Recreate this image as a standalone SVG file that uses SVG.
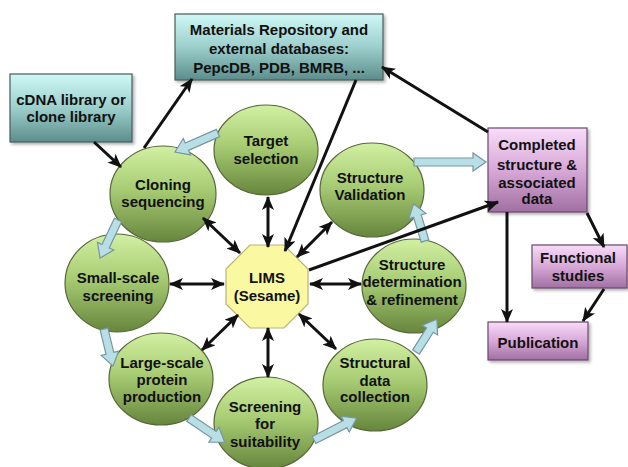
<svg xmlns="http://www.w3.org/2000/svg" width="628" height="467" viewBox="0 0 628 467">
<defs>
  <linearGradient id="gGreen" x1="0" y1="0" x2="0" y2="1">
    <stop offset="0" stop-color="#d2f0a2"/>
    <stop offset="0.45" stop-color="#a8cc74"/>
    <stop offset="1" stop-color="#66863c"/>
  </linearGradient>
  <linearGradient id="gTeal" x1="0" y1="0" x2="0" y2="1">
    <stop offset="0" stop-color="#cff8f6"/>
    <stop offset="0.5" stop-color="#9ccfcc"/>
    <stop offset="1" stop-color="#5c8d8c"/>
  </linearGradient>
  <linearGradient id="gPink" x1="0" y1="0" x2="0" y2="1">
    <stop offset="0" stop-color="#f8dcf8"/>
    <stop offset="0.5" stop-color="#d8a8d8"/>
    <stop offset="1" stop-color="#a070a2"/>
  </linearGradient>
  <filter id="sh" x="-10%" y="-10%" width="125%" height="130%">
    <feDropShadow dx="2" dy="2" stdDeviation="1.5" flood-color="#000" flood-opacity="0.3"/>
  </filter>
  <marker id="ah" viewBox="0 0 14 12" refX="13" refY="6" markerWidth="14" markerHeight="12" markerUnits="userSpaceOnUse" orient="auto-start-reverse">
    <path d="M0,0 L14,6 L0,12 L3.5,6 Z" fill="#111"/>
  </marker>
  <style>
    .t{font-family:"Liberation Sans",Arial,Helvetica,sans-serif;font-weight:bold;font-size:15px;fill:#111;text-anchor:middle}
    .circ{fill:url(#gGreen);stroke:#56683a;stroke-width:1.2}
    .teal{fill:url(#gTeal);stroke:#4a5a5a;stroke-width:1.2;filter:url(#sh)}
    .pink{fill:url(#gPink);stroke:#6a4a6a;stroke-width:1.2;filter:url(#sh)}
    .blk{stroke:#111;stroke-width:3;fill:none;marker-end:url(#ah)}
    .dbl{stroke:#111;stroke-width:3;fill:none;marker-end:url(#ah);marker-start:url(#ah)}
    .ba{fill:#b9dfe6;stroke:#7896a0;stroke-width:1.2}
  </style>
</defs>
<rect width="628" height="467" fill="#fff"/>

<g id="repository">
  <rect class="teal" x="175" y="14" width="208" height="66"/>
  <text class="t" x="279" y="35">Materials Repository and</text>
  <text class="t" x="279" y="54">external databases:</text>
  <text class="t" x="279" y="73">PepcDB, PDB, BMRB, ...</text>
</g>
<g id="cdna">
  <rect class="teal" x="10" y="74" width="122" height="68"/>
  <text class="t" x="71" y="105">cDNA library or</text>
  <text class="t" x="71" y="122">clone library</text>
</g>
<g id="target">
  <ellipse class="circ" cx="266" cy="150" rx="52" ry="45"/>
  <text class="t" x="266" y="146">Target</text>
  <text class="t" x="266" y="164">selection</text>
</g>
<g id="cloning">
  <ellipse class="circ" cx="163" cy="194" rx="53" ry="48"/>
  <text class="t" x="163" y="190">Cloning</text>
  <text class="t" x="163" y="207">sequencing</text>
</g>
<g id="validation">
  <ellipse class="circ" cx="372" cy="190" rx="52" ry="47"/>
  <text class="t" x="370" y="183">Structure</text>
  <text class="t" x="370" y="200">Validation</text>
</g>
<g id="smallscale">
  <ellipse class="circ" cx="117" cy="283" rx="52" ry="49"/>
  <text class="t" x="118" y="283">Small-scale</text>
  <text class="t" x="118" y="301">screening</text>
</g>
<g id="lims">
  <polygon points="250,245 284,245 308,269 308,304 284,328 250,328 226,304 226,269" fill="#fbf8a2" stroke="#b8b47a" stroke-width="1.2"/>
  <text class="t" x="267" y="283">LIMS</text>
  <text class="t" x="267" y="301">(Sesame)</text>
</g>
<g id="determination">
  <ellipse class="circ" cx="414" cy="286" rx="52" ry="47"/>
  <text class="t" x="412" y="270">Structure</text>
  <text class="t" x="412" y="287">determination</text>
  <text class="t" x="412" y="305">&amp; refinement</text>
</g>
<g id="largescale">
  <ellipse class="circ" cx="161" cy="379" rx="52" ry="46"/>
  <text class="t" x="162" y="368">Large-scale</text>
  <text class="t" x="162" y="385">protein</text>
  <text class="t" x="162" y="402">production</text>
</g>
<g id="screening">
  <ellipse class="circ" cx="266" cy="423" rx="52" ry="46"/>
  <text class="t" x="265" y="412">Screening</text>
  <text class="t" x="265" y="429">for</text>
  <text class="t" x="265" y="447">suitability</text>
</g>
<g id="datacollection">
  <ellipse class="circ" cx="375" cy="385" rx="52" ry="46"/>
  <text class="t" x="375" y="368">Structural</text>
  <text class="t" x="375" y="386">data</text>
  <text class="t" x="375" y="402">collection</text>
</g>
<g id="completed">
  <rect class="pink" x="488" y="128" width="99" height="84"/>
  <text class="t" x="537" y="150">Completed</text>
  <text class="t" x="537" y="170">structure &amp;</text>
  <text class="t" x="537" y="188">associated</text>
  <text class="t" x="537" y="204">data</text>
</g>
<g id="functional">
  <rect class="pink" x="532" y="245" width="95" height="43"/>
  <text class="t" x="578" y="263">Functional</text>
  <text class="t" x="578" y="281">studies</text>
</g>
<g id="publication">
  <rect class="pink" x="488" y="322" width="100" height="38"/>
  <text class="t" x="538" y="348">Publication</text>
</g>

<g id="cycle-arrows">
  <path class="ba" d="M0,-4 H34 V-9 L47,0 L34,9 V4 H0 Z" transform="translate(218,133) rotate(156.2)"/>
  <path class="ba" d="M0,-4 H29 V-9 L42,0 L29,9 V4 H0 Z" transform="translate(118,220) rotate(115.3)"/>
  <path class="ba" d="M0,-4 H25 V-9 L38,0 L25,9 V4 H0 Z" transform="translate(104,329) rotate(76.3)"/>
  <path class="ba" d="M0,-4 H30 V-9 L43,0 L30,9 V4 H0 Z" transform="translate(189,418) rotate(34)"/>
  <path class="ba" d="M0,-4 H35 V-9 L48,0 L35,9 V4 H0 Z" transform="translate(314,440) rotate(-27.1)"/>
  <path class="ba" d="M0,-4 H26 V-9 L39,0 L26,9 V4 H0 Z" transform="translate(416,352) rotate(-57.5)"/>
  <path class="ba" d="M0,-4 H26 V-9 L39,0 L26,9 V4 H0 Z" transform="translate(425,241) rotate(-107)"/>
  <path class="ba" d="M0,-4 H59 V-9 L72,0 L59,9 V4 H0 Z" transform="translate(414,162)"/>
</g>

<g id="connectors">
  <line class="blk" x1="94" y1="142" x2="121" y2="167"/>
  <line class="blk" x1="144" y1="148" x2="192" y2="79"/>
  <line class="blk" x1="356" y1="80" x2="285" y2="251"/>
  <line class="blk" x1="488" y1="132" x2="382" y2="67"/>
  <line class="blk" x1="309" y1="270" x2="498" y2="202"/>
  <line class="blk" x1="507" y1="212" x2="507" y2="322"/>
  <line class="blk" x1="587" y1="213" x2="604" y2="247"/>
  <line class="blk" x1="604" y1="289" x2="583" y2="321"/>
  <line class="dbl" x1="268" y1="197" x2="268" y2="247"/>
  <line class="dbl" x1="203" y1="218" x2="240" y2="253"/>
  <line class="dbl" x1="332" y1="222" x2="297" y2="257"/>
  <line class="dbl" x1="170" y1="284" x2="224" y2="284"/>
  <line class="dbl" x1="310" y1="284" x2="361" y2="284"/>
  <line class="dbl" x1="238" y1="315" x2="202" y2="350"/>
  <line class="dbl" x1="268" y1="328" x2="268" y2="377"/>
  <line class="dbl" x1="299" y1="314" x2="336" y2="349"/>
</g>
</svg>
